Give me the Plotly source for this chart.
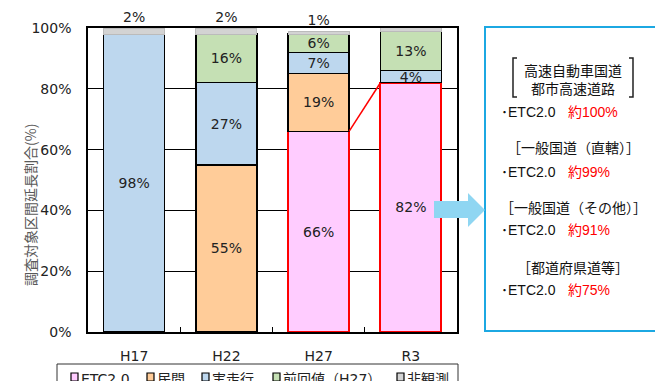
import plotly.graph_objects as go

# Survey years and length share (%) by data source
years = ["H17", "H22", "H27", "R3"]
etc20 = [None, None, 66, 82]
minkan = [None, 55, 19, None]
jissou = [98, 27, 7, 4]
zenkai = [None, 16, 6, 13]
hikansoku = [2, 2, 1, 2]

series_names = ["ETC2.0", "民間", "実走行", "前回値（H27）", "非観測"]
series_values = [etc20, minkan, jissou, zenkai, hikansoku]
fills = ["#FFCCFF", "#FFCC99", "#BDD7EE", "#C5E0B4", "#D3D3D3"]
edges = ["#FF0000", "#000000", "#000000", "#000000", "#BBBBBB"]
edge_w = [2, 1.5, 1.5, 1.5, 1]

# Road class summary shown in the side panel
road_classes = ["高速自動車国道<br>都市高速道路", "［一般国道（直轄）］",
                "［一般国道（その他）］", "［都道府県道等］"]
etc_cover = ["約100%", "約99%", "約91%", "約75%"]

W, H = 655, 381
L, R, T, B = 88, 198, 28, 49
PW, PH = W - L - R, H - T - B

def px(x):
    return (x - L) / PW

def py(y):
    return (H - B - y) / PH

NUM = "DejaVu Sans, Noto Sans CJK JP"
JP = "Noto Sans CJK JP"
BAR_W = 0.66

fig = go.Figure()
for i, (name, vals) in enumerate(zip(series_names, series_values)):
    last = i == len(series_names) - 1
    fig.add_trace(go.Bar(
        x=years, y=vals, name=name, width=BAR_W,
        marker=dict(color=fills[i], line=dict(color=edges[i], width=edge_w[i])),
        text=[f"{v}%" if v else "" for v in vals],
        textposition="outside" if last else "inside",
        insidetextanchor="middle",
        constraintext="none",
        cliponaxis=False,
        textfont=dict(family=NUM, size=14, color="#222222"),
        hoverinfo="skip",
    ))

shapes = []
# red connector between ETC2.0 bar tops
shapes.append(dict(type="line", xref="x", yref="y",
                   x0=2 + BAR_W / 2, y0=etc20[2], x1=3 - BAR_W / 2, y1=etc20[3],
                   line=dict(color="#FF0000", width=1.5), layer="above"))

# summary panel frame
shapes.append(dict(type="rect", xref="paper", yref="paper",
                   x0=px(485), x1=px(668), y0=py(27), y1=py(331),
                   line=dict(color="#1CA8E2", width=2), layer="above"))

# arrow pointing to the panel
ax = [434, 468, 468, 485, 468, 468, 434]
ay = [201, 201, 193, 210, 227, 218, 218]
path = "M " + " L ".join(f"{px(a):.5f},{py(b):.5f}" for a, b in zip(ax, ay)) + " Z"
shapes.append(dict(type="path", xref="paper", yref="paper", path=path,
                   fillcolor="#8FD6F2", line=dict(width=0), layer="above"))

# tall brackets around the expressway heading
lb = [(517, 58), (513, 58), (513, 97), (517, 97)]
rb = [(629, 58), (633, 58), (633, 97), (629, 97)]
for pts in (lb, rb):
    p = "M " + " L ".join(f"{px(a):.5f},{py(b):.5f}" for a, b in pts)
    shapes.append(dict(type="path", xref="paper", yref="paper", path=p,
                       line=dict(color="#222222", width=1.5), layer="above"))

# legend frame and swatches
shapes.append(dict(type="rect", xref="paper", yref="paper",
                   x0=px(57), x1=px(458), y0=py(364), y1=py(400),
                   line=dict(color="#333333", width=1), layer="above"))
legend_x = [71, 147, 202, 273, 397]
for lx, c in zip(legend_x, fills):
    shapes.append(dict(type="rect", xref="paper", yref="paper",
                       x0=px(lx), x1=px(lx + 7), y0=py(373), y1=py(381),
                       fillcolor=c, line=dict(color="#000000", width=1.2), layer="above"))

annotations = []
for lx, name in zip(legend_x, series_names):
    annotations.append(dict(xref="paper", yref="paper", x=px(lx + 8), y=py(379),
                            text=name, showarrow=False, xanchor="left", yanchor="middle",
                            font=dict(family=NUM, size=14, color="#222222")))

# y-axis title
annotations.append(dict(xref="paper", yref="paper", x=px(18), y=py(205),
                        text="調査対象区間延長割合(%)", textangle=-90, showarrow=False,
                        font=dict(family=JP, size=14, color="#595959")))

# side panel text
head_y = [79, 147, 207, 267]
etc_y = [112, 172, 230, 290]
for t, hy, cov, ey in zip(road_classes, head_y, etc_cover, etc_y):
    annotations.append(dict(xref="paper", yref="paper", x=px(573), y=py(hy),
                            text=t, showarrow=False, xanchor="center", yanchor="middle",
                            align="center",
                            font=dict(family=JP, size=14, color="#111111")))
    annotations.append(dict(xref="paper", yref="paper", x=px(499), y=py(ey),
                            text="･ETC2.0", showarrow=False, xanchor="left", yanchor="middle",
                            font=dict(family="Liberation Sans, Arial, " + JP, size=14, color="#111111")))
    annotations.append(dict(xref="paper", yref="paper", x=px(566), y=py(ey),
                            text=cov, showarrow=False, xanchor="left", yanchor="middle",
                            font=dict(family="Liberation Sans, Arial, " + JP, size=14, color="#FF0000")))

fig.update_layout(
    width=W, height=H,
    margin=dict(l=L, r=R, t=T, b=B, pad=0),
    barmode="stack",
    bargap=1 - BAR_W,
    showlegend=False,
    plot_bgcolor="white", paper_bgcolor="white",
    shapes=shapes, annotations=annotations,
    xaxis=dict(type="category", showline=True, mirror=True, linecolor="#000000", linewidth=1.5,
               ticks="inside", tickson="boundaries", ticklen=5, tickcolor="#000000",
               ticklabelstandoff=10, showgrid=False,
               tickfont=dict(family=NUM, size=14, color="#222222")),
    yaxis=dict(range=[0, 100], dtick=20, ticksuffix="%", showline=True, mirror=True,
               linecolor="#000000", linewidth=1.5, showgrid=True, gridcolor="#000000",
               gridwidth=1, zeroline=False, ticks="", ticklabelstandoff=12,
               tickfont=dict(family=NUM, size=14, color="#222222")),
)

fig.write_html("out.html")
